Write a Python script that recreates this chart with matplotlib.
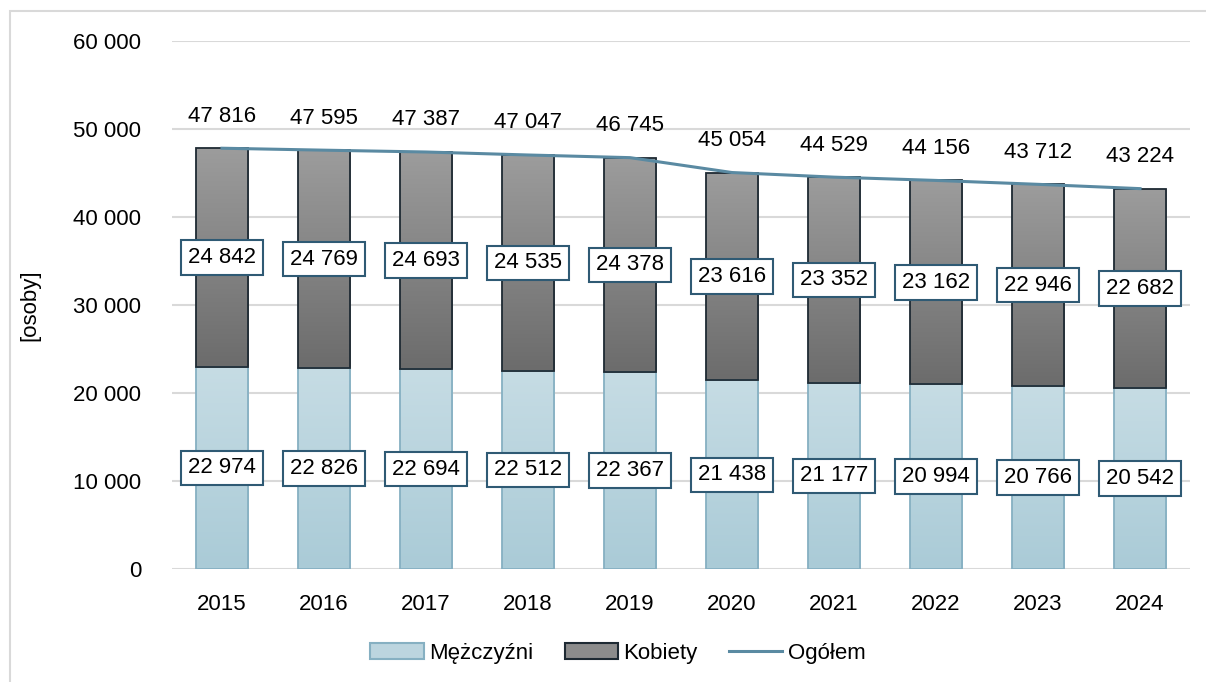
import matplotlib as mpl
mpl.use('Agg')
import matplotlib.pyplot as plt
from matplotlib.patches import Rectangle, Patch
from matplotlib.lines import Line2D
import numpy as np

years = ['2015', '2016', '2017', '2018', '2019', '2020', '2021', '2022', '2023', '2024']
men = [22974, 22826, 22694, 22512, 22367, 21438, 21177, 20994, 20766, 20542]
women = [24842, 24769, 24693, 24535, 24378, 23616, 23352, 23162, 22946, 22682]
total = [47816, 47595, 47387, 47047, 46745, 45054, 44529, 44156, 43712, 43224]

def fmt(v):
  return '{:,}'.format(v).replace(',', ' ')

plt.rcParams['font.family'] = ['Liberation Sans', 'DejaVu Sans']

fig = plt.figure(figsize=(12.06, 6.82), dpi=100)
# outer chart frame
fig.patches.append(Rectangle((10/1206, -0.1), 1.2, 1 - 11/682 + 0.1, transform=fig.transFigure,
                             fill=False, edgecolor='#d9d9d9', linewidth=1.5))
ax = fig.add_axes([172/1206, 1 - 569/682, (1190-172)/1206, (569-41)/682])

x = np.arange(len(years))
w = 0.51

def grad_bars(bars, top_col, bot_col):
  cmap = mpl.colors.LinearSegmentedColormap.from_list('g', [bot_col, top_col])
  for b in bars:
    x0, y0 = b.get_x(), b.get_y()
    grad = np.linspace(0, 1, 100).reshape(-1, 1)
    im = ax.imshow(grad, cmap=cmap, aspect='auto', origin='lower',
                   extent=(x0, x0 + b.get_width(), y0, y0 + b.get_height()), zorder=1.9)
    im.set_clip_path(b)
    b.set_facecolor('none')

bm = ax.bar(x, men, w, color='#b9d4de', edgecolor='#86b0c2', linewidth=1.3, zorder=2)
bw = ax.bar(x, women, w, bottom=men, color='#8a8a8a', edgecolor='#1e2a33', linewidth=1.3, zorder=2.1)
grad_bars(bm, '#c6dce4', '#aacbd7')
grad_bars(bw, '#9c9c9c', '#6c6c6c')
ax.plot(x, total, color='#5a8aa2', linewidth=2.2, zorder=4)

box = dict(boxstyle='square,pad=0.3', facecolor='white', edgecolor='#2f5a74', linewidth=1.5)
for i in range(len(years)):
  ax.text(x[i], men[i] / 2, fmt(men[i]), ha='center', va='center', fontsize=16, bbox=box, zorder=5)
  ax.text(x[i], men[i] + women[i] / 2, fmt(women[i]), ha='center', va='center', fontsize=16, bbox=box, zorder=5)
  ax.annotate(fmt(total[i]), (x[i], total[i]), xytext=(0, 32), textcoords='offset pixels',
              ha='center', va='center', fontsize=16, zorder=5)

ax.set_xlim(-0.49, len(years) - 0.51)
ax.set_ylim(0, 60000)
ax.set_yticks(np.arange(0, 60001, 10000))
ax.set_yticklabels([fmt(v) for v in range(0, 60001, 10000)])
ax.set_xticks(x)
ax.set_xticklabels(years)
ax.tick_params(axis='both', length=0, labelsize=16)
ax.tick_params(axis='y', pad=22)
ax.tick_params(axis='x', pad=18)
ax.grid(axis='y', color='#d9d9d9', linewidth=1.5, zorder=0)
ax.set_axisbelow(True)
for s in ax.spines.values():
  s.set_visible(False)
ax.set_ylabel('[osoby]', fontsize=16, labelpad=24)

handles = [Patch(facecolor='#bcd5df', edgecolor='#86b0c2', linewidth=1.5),
           Patch(facecolor='#8c8c8c', edgecolor='#1e2a33', linewidth=1.5),
           Line2D([0], [0], color='#5a8aa2', linewidth=2.2)]
fig.legend(handles, ['Mężczyźni', 'Kobiety', 'Ogółem'], loc='center', bbox_to_anchor=(618/1206, 1 - 653/682),
           ncol=3, frameon=False, fontsize=16, handlelength=2.4, handleheight=0.7, columnspacing=1.4, handletextpad=0.25)

plt.savefig('out.png', dpi=100)
